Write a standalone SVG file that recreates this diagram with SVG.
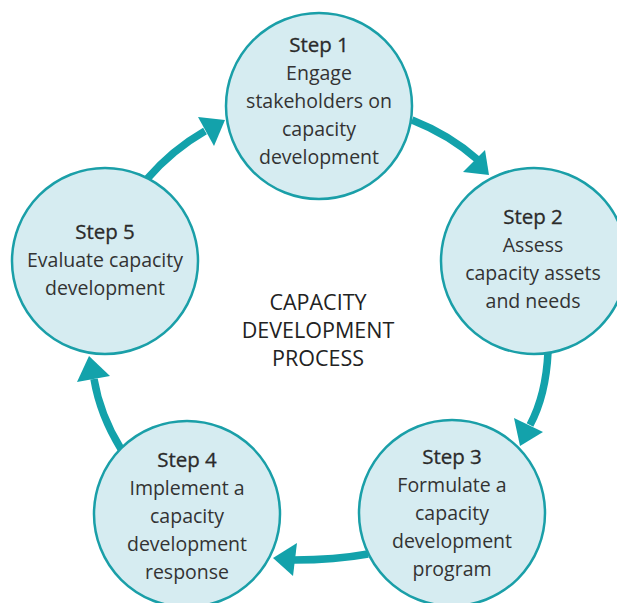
<svg xmlns="http://www.w3.org/2000/svg" width="617" height="603" viewBox="0 0 617 603">
<style>
.node{fill:#d6ecf1;stroke:#1a9fa8;stroke-width:2.5}
.t{font-family:"Open Sans","Noto Sans",sans-serif;font-size:19.5px;fill:#333;text-anchor:middle}
.h{font-size:20.5px;fill:#2a2a2a;stroke:#2a2a2a;stroke-width:0.3}
.c{font-family:"Open Sans","Noto Sans",sans-serif;font-size:21.5px;fill:#222;text-anchor:middle}
.arr{fill:none;stroke:#13a2ab;stroke-width:7.5}
.head{fill:#13a2ab}
</style>
<rect width="617" height="603" fill="#fff"/>
<g id="connectors">
<path class="arr" d="M 412 120 Q 450 135 478 160"/>
<polygon class="head" points="489,175 463,172 485,150"/>
<path class="arr" d="M 548 352 Q 546 395 530 425"/>
<polygon class="head" points="520,446 514,418 543,432"/>
<path class="arr" d="M 368 554 Q 335 560 294 560"/>
<polygon class="head" points="273,558 297,543 293,576"/>
<path class="arr" d="M 121 449 Q 100 415 94 379"/>
<polygon class="head" points="89,356 77,382 110,376"/>
<path class="arr" d="M 147 179 Q 172 150 205 131"/>
<polygon class="head" points="225,120 198,117 214,146"/>
</g>
<g id="step1">
<circle class="node" cx="319" cy="106" r="93"/>
<text class="t h" x="319" y="52">Step 1</text>
<text class="t" x="319" y="80">Engage</text>
<text class="t" x="319" y="108">stakeholders on</text>
<text class="t" x="319" y="136">capacity</text>
<text class="t" x="319" y="164">development</text>
</g>
<g id="step2">
<circle class="node" cx="534" cy="261" r="93"/>
<text class="t h" x="533" y="224">Step 2</text>
<text class="t" x="533" y="252">Assess</text>
<text class="t" x="533" y="280">capacity assets</text>
<text class="t" x="533" y="308">and needs</text>
</g>
<g id="step3">
<circle class="node" cx="452" cy="513" r="93"/>
<text class="t h" x="452" y="464">Step 3</text>
<text class="t" x="452" y="492">Formulate a</text>
<text class="t" x="452" y="520">capacity</text>
<text class="t" x="452" y="548">development</text>
<text class="t" x="452" y="576">program</text>
</g>
<g id="step4">
<circle class="node" cx="187" cy="514" r="93"/>
<text class="t h" x="187" y="467">Step 4</text>
<text class="t" x="187" y="495">Implement a</text>
<text class="t" x="187" y="523">capacity</text>
<text class="t" x="187" y="551">development</text>
<text class="t" x="187" y="579">response</text>
</g>
<g id="step5">
<circle class="node" cx="105" cy="261" r="93"/>
<text class="t h" x="105" y="239">Step 5</text>
<text class="t" x="105" y="267">Evaluate capacity</text>
<text class="t" x="105" y="295">development</text>
</g>
<g id="center">
<text class="c" x="318" y="310">CAPACITY</text>
<text class="c" x="318" y="338">DEVELOPMENT</text>
<text class="c" x="318" y="366">PROCESS</text>
</g>
</svg>
